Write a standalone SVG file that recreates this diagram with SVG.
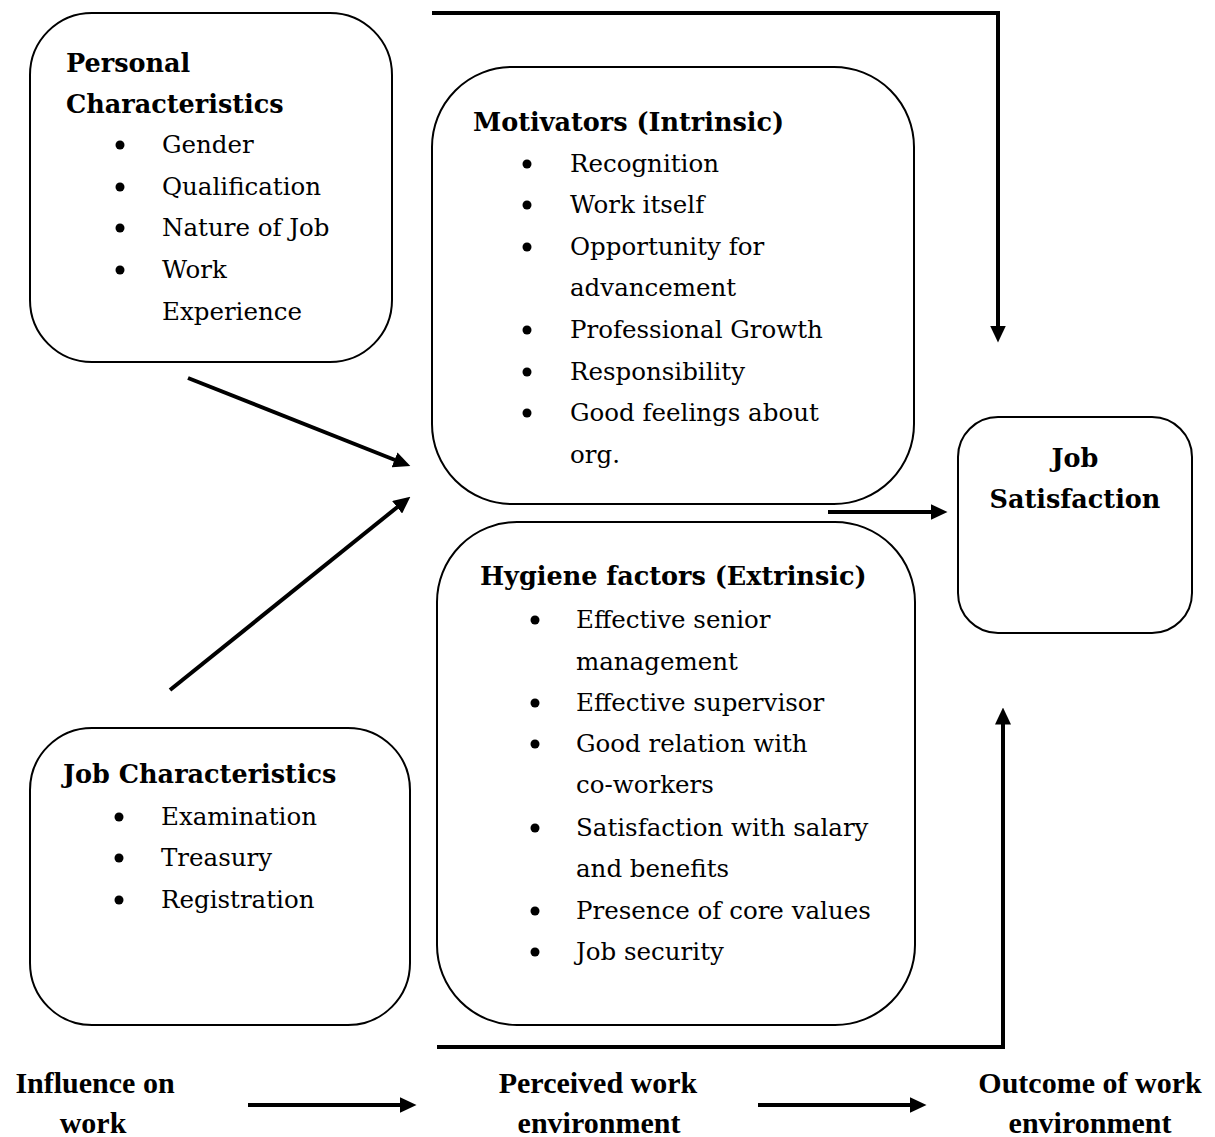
<svg xmlns="http://www.w3.org/2000/svg" width="1215" height="1137" viewBox="0 0 1215 1137">
<defs>
<marker id="ah" markerUnits="userSpaceOnUse" markerWidth="17" markerHeight="16" viewBox="0 0 17 16" refX="0.5" refY="8" orient="auto">
<path d="M0,0 L17,8 L0,16 Z" fill="#000"/>
</marker>
</defs>
<style>
.box{fill:#fff;stroke:#000;stroke-width:2}
.t{font-family:"DejaVu Serif",serif;font-size:24.5px;fill:#000}
.h{font-family:"DejaVu Serif",serif;font-size:25.5px;font-weight:bold;fill:#000}
.b{font-family:"Liberation Serif",serif;font-size:30px;font-weight:bold;fill:#000}
.ln{fill:none;stroke:#000;stroke-width:4}
</style>
<rect width="1215" height="1137" fill="#fff"/>
<g id="personal">
<rect class="box" x="30" y="13" width="362" height="349" rx="62"/>
<text class="h" x="66" y="72">Personal</text>
<text class="h" x="66" y="113">Characteristics</text>
<g fill="#000"><circle cx="120" cy="145" r="4.5"/><circle cx="120" cy="187" r="4.5"/><circle cx="120" cy="228" r="4.5"/><circle cx="120" cy="270" r="4.5"/></g>
<text class="t" x="162" y="153">Gender</text>
<text class="t" x="162" y="195">Qualification</text>
<text class="t" x="162" y="236">Nature of Job</text>
<text class="t" x="162" y="278">Work</text>
<text class="t" x="162" y="320">Experience</text>
</g>
<g id="motivators">
<rect class="box" x="432" y="67" width="482" height="437" rx="80"/>
<text class="h" x="473" y="131">Motivators (Intrinsic)</text>
<g fill="#000"><circle cx="527" cy="164" r="4.5"/><circle cx="527" cy="205" r="4.5"/><circle cx="527" cy="247" r="4.5"/><circle cx="527" cy="330" r="4.5"/><circle cx="527" cy="372" r="4.5"/><circle cx="527" cy="413" r="4.5"/></g>
<text class="t" x="570" y="172">Recognition</text>
<text class="t" x="570" y="213">Work itself</text>
<text class="t" x="570" y="255">Opportunity for</text>
<text class="t" x="570" y="296">advancement</text>
<text class="t" x="570" y="338">Professional Growth</text>
<text class="t" x="570" y="380">Responsibility</text>
<text class="t" x="570" y="421">Good feelings about</text>
<text class="t" x="570" y="463">org.</text>
</g>
<g id="hygiene">
<rect class="box" x="437" y="522" width="478" height="503" rx="80"/>
<text class="h" x="480" y="585">Hygiene factors (Extrinsic)</text>
<g fill="#000"><circle cx="535" cy="620" r="4.5"/><circle cx="535" cy="703" r="4.5"/><circle cx="535" cy="744" r="4.5"/><circle cx="535" cy="828" r="4.5"/><circle cx="535" cy="911" r="4.5"/><circle cx="535" cy="952" r="4.5"/></g>
<text class="t" x="576" y="628">Effective senior</text>
<text class="t" x="576" y="670">management</text>
<text class="t" x="576" y="711">Effective supervisor</text>
<text class="t" x="576" y="752">Good relation with</text>
<text class="t" x="576" y="793">co-workers</text>
<text class="t" x="576" y="836">Satisfaction with salary</text>
<text class="t" x="576" y="877">and benefits</text>
<text class="t" x="576" y="919">Presence of core values</text>
<text class="t" x="576" y="960">Job security</text>
</g>
<g id="jobchar">
<rect class="box" x="30" y="728" width="380" height="297" rx="62"/>
<text class="h" x="63" y="783">Job Characteristics</text>
<g fill="#000"><circle cx="119" cy="817" r="4.5"/><circle cx="119" cy="858" r="4.5"/><circle cx="119" cy="900" r="4.5"/></g>
<text class="t" x="161" y="825">Examination</text>
<text class="t" x="161" y="866">Treasury</text>
<text class="t" x="161" y="908">Registration</text>
</g>
<g id="jobsat">
<rect class="box" x="958" y="417" width="234" height="216" rx="40"/>
<text class="h" x="1075" y="467" text-anchor="middle">Job</text>
<text class="h" x="1075" y="508" text-anchor="middle">Satisfaction</text>
</g>
<g id="labels">
<text class="b" x="95" y="1093" text-anchor="middle">Influence on</text>
<text class="b" x="93" y="1133" text-anchor="middle">work</text>
<text class="b" x="598" y="1093" text-anchor="middle">Perceived work</text>
<text class="b" x="599" y="1133" text-anchor="middle">environment</text>
<text class="b" x="1090" y="1093" text-anchor="middle">Outcome of work</text>
<text class="b" x="1090" y="1133" text-anchor="middle">environment</text>
</g>
<g id="connectors">
<polyline class="ln" points="432,13 998,13 998,326" marker-end="url(#ah)"/>
<line class="ln" x1="188" y1="378" x2="395" y2="460" marker-end="url(#ah)"/>
<line class="ln" x1="170" y1="690" x2="397.5" y2="507" marker-end="url(#ah)"/>
<line class="ln" x1="828" y1="512" x2="931" y2="512" marker-end="url(#ah)"/>
<polyline class="ln" points="437,1047 1003,1047 1003,724" marker-end="url(#ah)"/>
<line class="ln" x1="248" y1="1105" x2="400" y2="1105" marker-end="url(#ah)"/>
<line class="ln" x1="758" y1="1105" x2="910" y2="1105" marker-end="url(#ah)"/>
</g>
</svg>
